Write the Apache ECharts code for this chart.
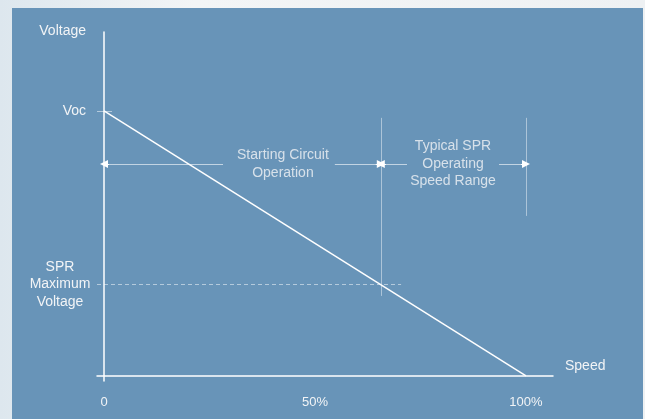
<!DOCTYPE html>
<html><head><meta charset="utf-8">
<script src="https://cdn.jsdelivr.net/npm/echarts@6/dist/echarts.min.js"></script>
<style>
html,body{margin:0;padding:0;width:645px;height:419px;overflow:hidden;background:linear-gradient(to right,#dde7ee,#f3f5f6 30%,#eef1f3);}
#panel{position:absolute;left:12px;top:8px;width:631px;height:411px;background:#6894b8;}
#chart{position:absolute;left:0;top:0;width:645px;height:419px;}
</style></head>
<body><div id="panel"></div><div id="chart"></div>
<script>
// ---- data ----
const curveSpeed = [0, 100];
const curveVoltage = [100, 0];
const speedTicks = [0, 50, 100];
const speedTickLabels = ['0', '50%', '100%'];
const voltageTicks = [100, 129.8];
const voltageTickLabels = ['Voc', 'Voltage'];
const sprVoltage = 34.6;
const sprLabel = 'SPR\nMaximum\nVoltage';
const dashSpeedRange = [-1.66, 70.4];
const boundarySpeeds = [65.6, 100];
const boundaryTop = [97.4, 97.4];
const boundaryBottom = [30.2, 60.4];
const arrowLevel = 80;
const arrowFrom = [28.2, 54.7, 71.8, 93.6];
const arrowTo = [0, 65.6, 65.6, 100];
const vocTickSpan = [-1.66, 1.9];
const noteSpeeds = [42.4, 82.7];
const noteTexts = ['Starting Circuit\nOperation', 'Typical SPR\nOperating\nSpeed Range'];
const axisRange = {xmin: -1.66, xmax: 106.4, ymin: -1.9, ymax: 129.8};

const txt = '#f2f4f6';
const font = '"Liberation Sans", Arial, sans-serif';
const chart = echarts.init(document.getElementById('chart'));

const seg = (a, b, ls) => [{coord: a, lineStyle: ls}, {coord: b}];
const segs = [];
boundarySpeeds.forEach((s, i) => segs.push(seg([s, boundaryTop[i]], [s, boundaryBottom[i]], {color: 'rgba(255,255,255,0.45)', width: 1, type: 'solid'})));
segs.push(seg([dashSpeedRange[0], sprVoltage], [dashSpeedRange[1], sprVoltage], {color: 'rgba(255,255,255,0.5)', width: 1, type: [4, 3]}));
segs.push(seg([vocTickSpan[0], curveVoltage[0]], [vocTickSpan[1], curveVoltage[0]], {color: 'rgba(255,255,255,0.5)', width: 1, type: 'solid'}));

const arrows = arrowFrom.map((f, i) => [{coord: [f, arrowLevel]}, {coord: [arrowTo[i], arrowLevel]}]);
const heads = arrowFrom.map((f, i) => [{coord: [arrowTo[i] + Math.sign(f - arrowTo[i]) * 1.2, arrowLevel]}, {coord: [arrowTo[i], arrowLevel]}]);

chart.setOption({
  animation: false,
  grid: {left: 97, right: 92, top: 32, bottom: 38, containLabel: false},
  xAxis: {
    type: 'value', min: axisRange.xmin, max: axisRange.xmax,
    name: 'Speed', nameLocation: 'end', nameGap: 12,
    nameTextStyle: {color: txt, fontSize: 14, fontFamily: font, verticalAlign: 'bottom', padding: [0, 0, 3, 0]},
    axisLine: {show: true, onZero: true, lineStyle: {color: '#ffffff', width: 1.5}},
    axisTick: {show: false}, splitLine: {show: false},
    axisLabel: {customValues: speedTicks, formatter: v => speedTickLabels[speedTicks.indexOf(v)] || '', color: txt, fontSize: 13, fontFamily: font, margin: 15}
  },
  yAxis: [{
    type: 'value', min: axisRange.ymin, max: axisRange.ymax,
    axisLine: {show: true, onZero: true, lineStyle: {color: '#ffffff', width: 1.5}},
    axisTick: {show: false}, splitLine: {show: false},
    axisLabel: {customValues: voltageTicks, formatter: v => {const i = voltageTicks.indexOf(v); return i === 1 ? '{top|' + voltageTickLabels[i] + '}' : (voltageTickLabels[i] || '');},
      color: txt, fontSize: 14, fontFamily: font, margin: 11, align: 'right',
      rich: {top: {color: txt, fontSize: 14, fontFamily: font, padding: [0, 0, 2, 0]}}}
  }, {
    type: 'value', min: axisRange.ymin, max: axisRange.ymax, position: 'left',
    axisLine: {show: false, onZero: false}, axisTick: {show: false}, splitLine: {show: false},
    axisLabel: {customValues: [sprVoltage], formatter: () => sprLabel, color: txt, fontSize: 14, fontFamily: font, margin: 37, align: 'center', lineHeight: 17.5}
  }],
  series: [{
    type: 'line', data: curveSpeed.map((s, i) => [s, curveVoltage[i]]), showSymbol: false, symbol: 'none',
    lineStyle: {color: '#ffffff', width: 1.5}, z: 5,
    markLine: {silent: true, symbol: ['none', 'none'], label: {show: false}, data: segs}
  }, {
    type: 'line', data: [], markLine: {silent: true, symbol: ['none', 'none'], label: {show: false},
      lineStyle: {color: 'rgba(255,255,255,0.6)', width: 1, type: 'solid'}, data: arrows}
  }, {
    type: 'line', data: [], markLine: {silent: true, symbol: ['none', 'triangle'], symbolSize: [8, 8], label: {show: false},
      lineStyle: {color: '#ffffff', width: 1, type: 'solid'}, data: heads}
  }, {
    type: 'scatter', symbolSize: 0, data: noteSpeeds.map((s, i) => ({value: [s, arrowLevel], name: noteTexts[i]})),
    label: {show: true, position: 'inside', formatter: p => p.name, color: txt, fontSize: 14, fontFamily: font, lineHeight: 17.5, align: 'center', verticalAlign: 'middle'}
  }]
});
</script></body></html>
